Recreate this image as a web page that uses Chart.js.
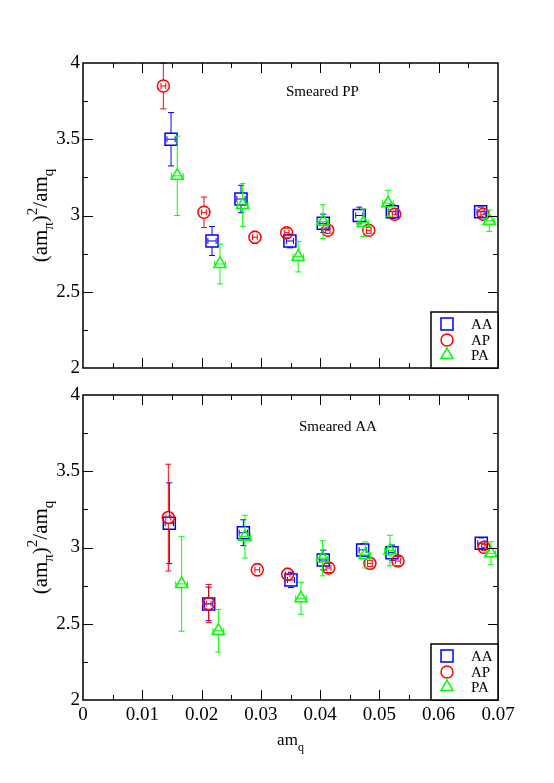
<!DOCTYPE html>
<html><head><meta charset="utf-8">
<script src="https://cdn.jsdelivr.net/npm/chart.js@4/dist/chart.umd.min.js"></script>
<style>
html,body{margin:0;padding:0;background:#fff;width:554px;height:783px;overflow:hidden}
canvas{position:absolute;left:0}
#c1{top:0;width:554px;height:390px}
#c2{top:380px;width:554px;height:403px}
</style></head>
<body>
<canvas id="c1" width="554" height="390"></canvas>
<canvas id="c2" width="554" height="403"></canvas>
<script>
// ---------- DATA ----------
const seriesNames = ['AA', 'AP', 'PA'];
const xTickValues = [0, 0.01, 0.02, 0.03, 0.04, 0.05, 0.06, 0.07];
const yTickValues = [2, 2.5, 3, 3.5, 4];

// Top panel: Smeared PP
const ppAA_x = [0.01485, 0.02176, 0.02665, 0.0349, 0.04053, 0.0466, 0.05217, 0.06707];
const ppAA_y = [3.50, 2.833, 3.108, 2.833, 2.949, 3.00, 3.025, 3.025];
const ppAA_err = [0.175, 0.095, 0.09, 0.045, 0.06, 0.055, 0.045, 0.03];
const ppAA_xerr = [0.0007, 0.0007, 0.0007, 0.0006, 0.0006, 0.0006, 0.0006, 0.0006];

const ppAP_x = [0.01355, 0.0204, 0.0290, 0.03435, 0.04127, 0.0482, 0.05257, 0.06752];
const ppAP_y = [3.849, 3.021, 2.857, 2.887, 2.903, 2.903, 3.008, 3.008];
const ppAP_err = [0.15, 0.10, 0.04, 0.03, 0.02, 0.02, 0.02, 0.02];
const ppAP_xerr = [0.0004, 0.0004, 0.0004, 0.0004, 0.0004, 0.0004, 0.0004, 0.0004];

const ppPA_x = [0.0159, 0.0231, 0.02693, 0.0363, 0.0405, 0.0473, 0.05144, 0.06853];
const ppPA_y = [3.26, 2.682, 3.069, 2.73, 2.96, 2.953, 3.08, 2.966];
const ppPA_err = [0.26, 0.13, 0.14, 0.10, 0.11, 0.09, 0.085, 0.07];
const ppPA_xerr = [0.001, 0.0009, 0.0009, 0.0009, 0.0009, 0.0009, 0.0009, 0.0008];

// Bottom panel: Smeared AA
const aaAA_x = [0.01456, 0.0212, 0.02705, 0.03508, 0.04053, 0.04717, 0.05212, 0.06718];
const aaAA_y = [3.159, 2.63, 3.097, 2.787, 2.918, 2.984, 2.966, 3.028];
const aaAA_err = [0.265, 0.11, 0.085, 0.05, 0.065, 0.04, 0.05, 0.035];
const aaAA_xerr = [0.0007, 0.0007, 0.0007, 0.0006, 0.0006, 0.0006, 0.0006, 0.0006];

const aaAP_x = [0.01439, 0.0212, 0.0294, 0.03452, 0.04143, 0.0484, 0.05313, 0.06763];
const aaAP_y = [3.196, 2.632, 2.854, 2.824, 2.866, 2.896, 2.911, 3.001];
const aaAP_err = [0.35, 0.125, 0.04, 0.04, 0.03, 0.02, 0.03, 0.02];
const aaAP_xerr = [0.0004, 0.0004, 0.0004, 0.0004, 0.0004, 0.0004, 0.0004, 0.0004];

const aaPA_x = [0.01664, 0.02283, 0.02732, 0.03677, 0.04042, 0.04762, 0.05178, 0.06881];
const aaPA_y = [2.761, 2.454, 3.071, 2.667, 2.929, 2.951, 2.98, 2.962];
const aaPA_err = [0.31, 0.14, 0.14, 0.105, 0.115, 0.085, 0.10, 0.075];
const aaPA_xerr = [0.001, 0.0009, 0.0009, 0.0009, 0.0009, 0.0009, 0.0009, 0.0008];

// ---------- STYLE ----------
const SERIF = "'Liberation Serif', 'Times New Roman', serif";
const COLORS = ['#0000ff', '#ff0000', '#00ff00'];
const STYLES = ['rect', 'circle', 'triangle'];
const RADII = [8.5, 6, 7];
const GAP_UP = [6, 6, 7];
const GAP_DN = [6, 6, 3.5];

function zip(xs, ys) { return xs.map((x, i) => ({x: x, y: ys[i]})); }

function makeDatasets(sets) {
  return sets.map((s, k) => ({
    label: seriesNames[k],
    data: zip(s[0], s[1]),
    yErr: s[2],
    xErr: s[3],
    showLine: false,
    pointStyle: STYLES[k],
    pointRadius: RADII[k],
    pointHoverRadius: RADII[k],
    pointBorderWidth: 1.5,
    pointBorderColor: COLORS[k],
    pointBackgroundColor: 'rgba(0,0,0,0)',
    borderColor: COLORS[k],
    order: 3 - k,
    kind: k
  }));
}

const decoPlugin = {
  id: 'deco',
  beforeDatasetDraw(chart, args) {
    const ds = chart.data.datasets[args.index];
    const xs = chart.scales.x, ys = chart.scales.y;
    const ctx = chart.ctx;
    const k = ds.kind;
    ctx.save();
    ctx.strokeStyle = ds.borderColor;
    ctx.lineWidth = 1;
    ds.data.forEach((p, i) => {
      const px = xs.getPixelForValue(p.x), py = ys.getPixelForValue(p.y);
      const top = ys.getPixelForValue(p.y + ds.yErr[i]);
      const bot = ys.getPixelForValue(p.y - ds.yErr[i]);
      const l = xs.getPixelForValue(p.x - ds.xErr[i]);
      const r = xs.getPixelForValue(p.x + ds.xErr[i]);
      ctx.beginPath();
      if (py - top > GAP_UP[k]) { ctx.moveTo(px, top); ctx.lineTo(px, py - GAP_UP[k]); }
      if (bot - py > GAP_DN[k]) { ctx.moveTo(px, py + GAP_DN[k]); ctx.lineTo(px, bot); }
      ctx.moveTo(px - 3, top); ctx.lineTo(px + 3, top);
      ctx.moveTo(px - 3, bot); ctx.lineTo(px + 3, bot);
      ctx.moveTo(l, py); ctx.lineTo(r, py);
      ctx.moveTo(l, py - 3); ctx.lineTo(l, py + 3);
      ctx.moveTo(r, py - 3); ctx.lineTo(r, py + 3);
      ctx.stroke();
    });
    ctx.restore();
  },
  afterDraw(chart, args, opts) {
    const ctx = chart.ctx;
    const a = chart.chartArea;
    const xs = chart.scales.x, ys = chart.scales.y;
    ctx.save();
    // ticks (inward, all sides)
    ctx.strokeStyle = '#000';
    ctx.lineWidth = 1;
    ctx.beginPath();
    for (let v = 0.005; v < 0.07 - 1e-9; v += 0.005) {
      const major = Math.abs(v / 0.01 - Math.round(v / 0.01)) < 1e-6;
      const L = major ? 10 : 5;
      const px = Math.round(xs.getPixelForValue(v)) + 0.5;
      ctx.moveTo(px, a.bottom); ctx.lineTo(px, a.bottom - L);
      ctx.moveTo(px, a.top); ctx.lineTo(px, a.top + L);
    }
    for (let v = 2.25; v < 4 - 1e-9; v += 0.25) {
      const major = Math.abs(v / 0.5 - Math.round(v / 0.5)) < 1e-6;
      const L = major ? 10 : 5;
      const py = Math.round(ys.getPixelForValue(v)) + 0.5;
      ctx.moveTo(a.left, py); ctx.lineTo(a.left + L, py);
      ctx.moveTo(a.right, py); ctx.lineTo(a.right - L, py);
    }
    ctx.stroke();
    // frame
    ctx.lineWidth = 1.5;
    ctx.strokeRect(a.left, a.top, a.right - a.left, a.bottom - a.top);

    // panel label
    ctx.fillStyle = '#000';
    ctx.font = '15px ' + SERIF;
    ctx.textBaseline = 'alphabetic';
    ctx.textAlign = 'left';
    ctx.fillText(opts.label, opts.labelX, opts.labelY);

    // legend box
    const bx = opts.legX, by = opts.legY, bw = a.right - bx, bh = a.bottom - by;
    ctx.fillStyle = '#fff';
    ctx.fillRect(bx, by, bw, bh);
    ctx.lineWidth = 1.5;
    ctx.strokeStyle = '#000';
    ctx.strokeRect(bx, by, bw, bh);
    const rows = [12, 28, 43];
    chart.data.datasets.forEach((ds, k) => {
      const cx = bx + 16, cy = by + rows[k];
      ctx.strokeStyle = COLORS[k];
      ctx.lineWidth = 1.5;
      ctx.beginPath();
      if (k === 0) { ctx.rect(cx - 6, cy - 6, 12, 12); }
      else if (k === 1) { ctx.arc(cx, cy, 6, 0, Math.PI * 2); }
      else {
        const r = 7;
        ctx.moveTo(cx, cy - r);
        ctx.lineTo(cx + r * Math.sin(Math.PI / 3), cy + r / 2);
        ctx.lineTo(cx - r * Math.sin(Math.PI / 3), cy + r / 2);
        ctx.closePath();
      }
      ctx.stroke();
      ctx.fillStyle = '#000';
      ctx.font = '15px ' + SERIF;
      ctx.textBaseline = 'middle';
      ctx.fillText(ds.label, bx + 40, cy + 1);
    });

    // y title: (am_pi)^2/am_q rotated
    ctx.save();
    ctx.translate(opts.yTitleX, (a.top + a.bottom) / 2);
    ctx.rotate(-Math.PI / 2);
    const big = '21px ' + SERIF, small = '15px ' + SERIF;
    const parts = [['(am', big, 0], ['\u03c0', small, 6], [')', big, 0], ['2', small, -10], ['/am', big, 0], ['q', small, 6]];
    let total = 0;
    parts.forEach(p => { ctx.font = p[1]; total += ctx.measureText(p[0]).width; });
    let x = -total / 2;
    ctx.textBaseline = 'alphabetic';
    ctx.fillStyle = '#000';
    parts.forEach(p => { ctx.font = p[1]; ctx.fillText(p[0], x, 7 + p[2]); x += ctx.measureText(p[0]).width; });
    ctx.restore();

    // x title
    if (opts.xTitle) {
      ctx.font = '17px ' + SERIF;
      ctx.textBaseline = 'alphabetic';
      const w1 = ctx.measureText('am').width;
      ctx.font = '12px ' + SERIF;
      const w2 = ctx.measureText('q').width;
      const x0 = (a.left + a.right) / 2 - (w1 + w2) / 2;
      ctx.font = '17px ' + SERIF;
      ctx.fillText('am', x0, opts.xTitleY);
      ctx.font = '12px ' + SERIF;
      ctx.fillText('q', x0 + w1, opts.xTitleY + 6);
    }
    ctx.restore();
  }
};

function makeChart(id, sets, showX, deco, padTop, padBottom, xHeight) {
  return new Chart(document.getElementById(id), {
    type: 'scatter',
    data: { datasets: makeDatasets(sets) },
    plugins: [decoPlugin],
    options: {
      responsive: false,
      animation: false,
      devicePixelRatio: 1,
      layout: { padding: { left: 0, right: 56, top: padTop, bottom: padBottom } },
      plugins: { legend: { display: false }, tooltip: { enabled: false }, deco: deco },
      scales: {
        x: {
          type: 'linear', min: 0, max: 0.07,
          afterBuildTicks: s => { s.ticks = xTickValues.map(v => ({value: v})); },
          afterFit: s => { s.height = xHeight; },
          grid: { display: false, drawTicks: false },
          border: { display: false },
          ticks: {
            display: showX, autoSkip: false, maxRotation: 0, padding: 4,
            color: '#000', font: { family: SERIF, size: 19 },
            callback: v => (v === 0 ? '0' : Number(v).toFixed(2))
          }
        },
        y: {
          type: 'linear', min: 2, max: 4,
          afterBuildTicks: s => { s.ticks = yTickValues.map(v => ({value: v})); },
          afterFit: s => { s.width = 83; },
          grid: { display: false, drawTicks: false },
          border: { display: false },
          ticks: {
            padding: 3, color: '#000', font: { family: SERIF, size: 19 },
            callback: v => String(Number(Number(v).toFixed(1)))
          }
        }
      }
    }
  });
}

makeChart('c1',
  [[ppAA_x, ppAA_y, ppAA_err, ppAA_xerr], [ppAP_x, ppAP_y, ppAP_err, ppAP_xerr], [ppPA_x, ppPA_y, ppPA_err, ppPA_xerr]],
  false,
  { label: 'Smeared PP', labelX: 286, labelY: 96, legX: 431, legY: 312, yTitleX: 40, xTitle: false },
  63, 22, 0);

makeChart('c2',
  [[aaAA_x, aaAA_y, aaAA_err, aaAA_xerr], [aaAP_x, aaAP_y, aaAP_err, aaAP_xerr], [aaPA_x, aaPA_y, aaPA_err, aaPA_xerr]],
  true,
  { label: 'Smeared AA', labelX: 299, labelY: 51, legX: 431, legY: 264, yTitleX: 40, xTitle: true, xTitleY: 365 },
  15, 53, 30);
</script>
</body></html>
